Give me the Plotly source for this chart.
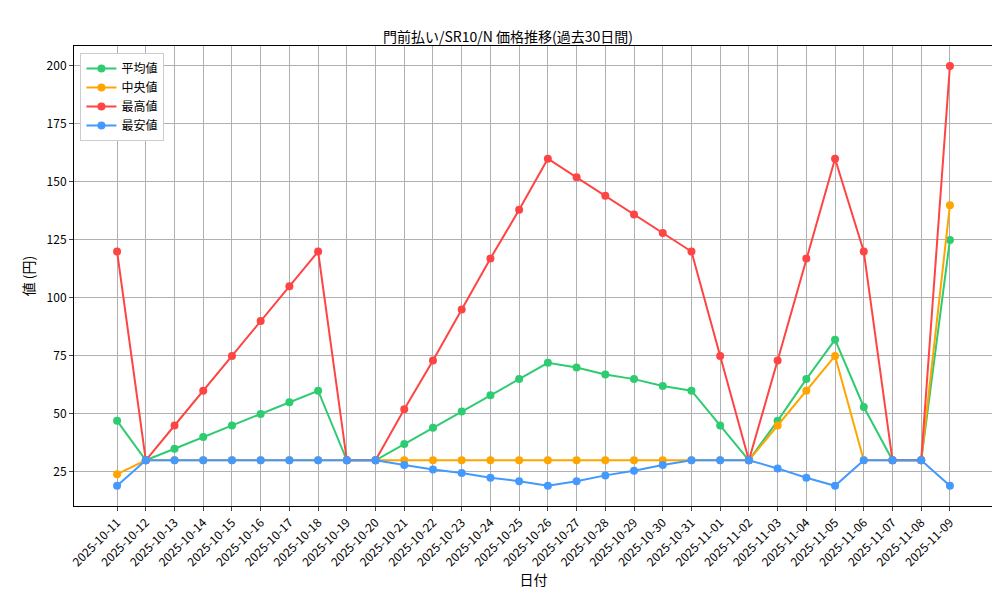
import plotly.graph_objects as go

dates = ["2025-10-%02d" % d for d in range(11, 32)] + ["2025-11-%02d" % d for d in range(1, 10)]

avg_vals = [47, 30, 35, 40, 45, 50, 55, 60, 30, 30, 37, 44, 51, 58, 65, 72, 70, 67, 65, 62,
            60, 45, 30, 47, 65, 82, 53, 30, 30, 125]
median_vals = [24, 30, 30, 30, 30, 30, 30, 30, 30, 30, 30, 30, 30, 30, 30, 30, 30, 30, 30, 30,
               30, 30, 30, 45, 60, 75, 30, 30, 30, 140]
max_vals = [120, 30, 45, 60, 75, 90, 105, 120, 30, 30, 52, 73, 95, 117, 138, 160, 152, 144, 136, 128,
            120, 75, 30, 73, 117, 160, 120, 30, 30, 200]
min_vals = [19, 30, 30, 30, 30, 30, 30, 30, 30, 30, 28, 26, 24.5, 22.5, 21, 19, 21, 23.5, 25.5, 28,
            30, 30, 30, 26.5, 22.5, 19, 30, 30, 30, 19]

series = [
    ("平均値", avg_vals, "#2ecc71"),
    ("中央値", median_vals, "#ffa500"),
    ("最高値", max_vals, "#ff4444"),
    ("最安値", min_vals, "#4499ff"),
]

font = "Noto Sans CJK JP"
fig = go.Figure()
for name, vals, color in series:
    fig.add_trace(go.Scatter(x=dates, y=vals, name=name, mode="lines+markers",
                             line=dict(color=color, width=2), marker=dict(size=8, color=color)))

fig.update_layout(
    width=1000, height=600, plot_bgcolor="white", paper_bgcolor="white",
    font=dict(family=font, size=12, color="black"),
    title=dict(text="門前払い/SR10/N 価格推移(過去30日間)", x=0.5, xanchor="center", y=0.96, font=dict(size=14)),
    margin=dict(l=66, r=15, t=38, b=102),
    legend=dict(x=0.007, y=0.985, xanchor="left", yanchor="top", bgcolor="white",
                bordercolor="#cccccc", borderwidth=1),
    showlegend=True,
)
axis_style = dict(showline=True, linecolor="black", mirror=True, showgrid=True, gridcolor="#b0b0b0",
                  ticks="outside", ticklen=4, zeroline=False)
fig.update_xaxes(type="category", title_text="日付", title_standoff=5, tickangle=-45,
                 range=[-1.5, 30.5], **axis_style)
fig.update_yaxes(title_text="値 (円)", title_standoff=8, range=[10.3, 208.6],
                 tickvals=[25, 50, 75, 100, 125, 150, 175, 200], **axis_style)

fig.write_html("out.html")
